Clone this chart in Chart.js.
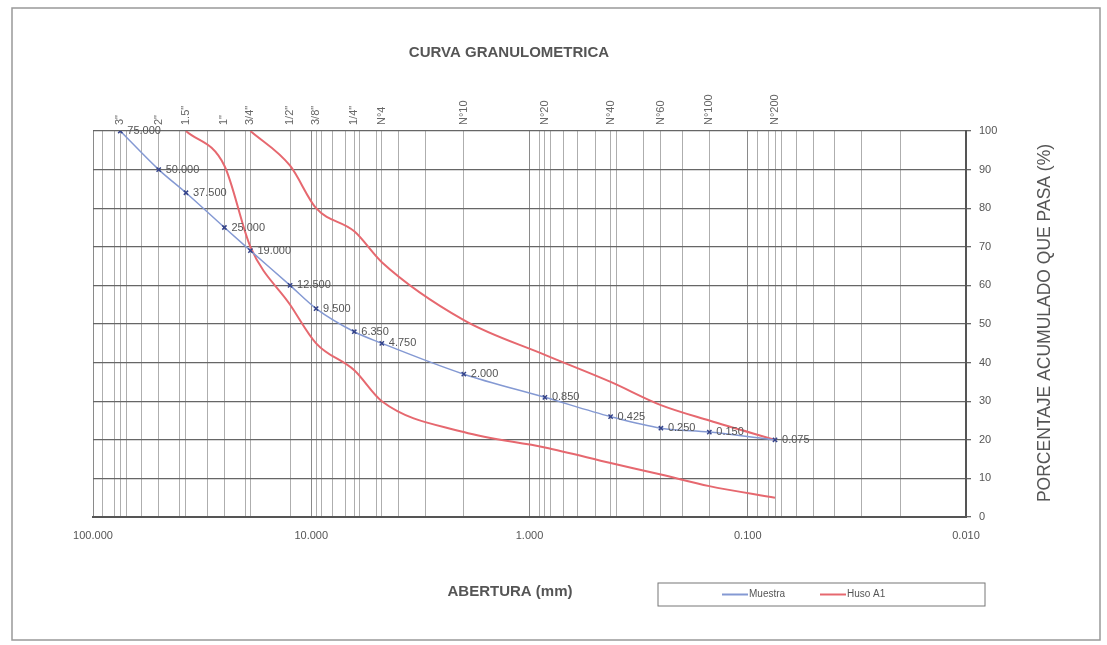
<!DOCTYPE HTML>
<html>
<head>
  <script src="https://cdn.jsdelivr.net/npm/chart.js"></script>
  <style>
    body { margin: 0; background: #fff; }
  </style>
  <script>
    // Sieve openings (mm) and their names
    const sieveSizes = [75, 50, 37.5, 25, 19, 12.5, 9.5, 6.35, 4.75, 2, 0.85, 0.425, 0.25, 0.15, 0.075];
    const sieveNames = ['3"', '2"', '1.5"', '1"', '3/4"', '1/2"', '3/8"', '1/4"', 'N°4', 'N°10', 'N°20', 'N°40', 'N°60', 'N°100', 'N°200'];

    // Sample: percent passing for each sieve
    const muestraPasa = [100, 90, 84, 75, 69, 60, 54, 48, 45, 37, 31, 26, 23, 22, 20];

    // Huso A1 limits (lower starts at 1.5", upper starts at 3/4")
    const husoInfSizes = [37.5, 25, 19, 12.5, 9.5, 6.35, 4.75, 2, 0.85, 0.425, 0.25, 0.15, 0.075];
    const husoInfPasa  = [100, 91, 70, 55, 45, 38, 30, 22, 18, 14, 11, 8, 5];
    const husoSupSizes = [19, 12.5, 9.5, 6.35, 4.75, 2, 0.85, 0.425, 0.25, 0.15, 0.075];
    const husoSupPasa  = [100, 91, 80, 74, 66, 51, 42, 35, 29, 25, 20];

    const yTicks = [0, 10, 20, 30, 40, 50, 60, 70, 80, 90, 100];

    const textColor = '#555';

    function toPoints(xs, ys) {
      return xs.map((x, i) => ({ x: x, y: ys[i] }));
    }

    // extra drawing: title, axis titles, sieve names, point labels, legend, frame
    const extras = {
      id: 'extras',
      afterDraw(chart) {
        const ctx = chart.ctx;
        const area = chart.chartArea;
        const xs = chart.scales.x;
        ctx.save();

        // outer frame
        ctx.strokeStyle = '#999';
        ctx.lineWidth = 1.5;
        ctx.strokeRect(12, 8, 1088, 632);

        ctx.fillStyle = textColor;
        ctx.textAlign = 'center';
        ctx.textBaseline = 'middle';
        ctx.font = 'bold 15px "Liberation Sans", Arial, sans-serif';
        ctx.fillText('CURVA GRANULOMETRICA', 509, 53);

        ctx.font = 'bold 15px "Liberation Sans", Arial, sans-serif';
        ctx.fillText('ABERTURA (mm)', 510, 592);

        // right axis title
        ctx.save();
        ctx.translate(1045, 323);
        ctx.rotate(-Math.PI / 2);
        ctx.font = '17.5px "Liberation Sans", Arial, sans-serif';
        ctx.fillText('PORCENTAJE ACUMULADO QUE PASA (%)', 0, 0);
        ctx.restore();

        // sieve names above the plot
        ctx.font = '11px "Liberation Sans", Arial, sans-serif';
        ctx.fillStyle = '#666';
        sieveSizes.forEach((s, i) => {
          const px = xs.getPixelForValue(s);
          ctx.save();
          ctx.translate(px, area.top - 6);
          ctx.rotate(-Math.PI / 2);
          ctx.textAlign = 'left';
          ctx.fillText(sieveNames[i], 0, 0);
          ctx.restore();
        });

        // labels on sample points
        ctx.fillStyle = textColor;
        ctx.font = '11px "Liberation Sans", Arial, sans-serif';
        ctx.textAlign = 'left';
        const meta = chart.getDatasetMeta(0);
        meta.data.forEach((pt, i) => {
          ctx.fillText(sieveSizes[i].toFixed(3), pt.x + 7, pt.y);
        });

        // legend box
        const lx = 658, ly = 583, lw = 327, lh = 23;
        ctx.fillStyle = '#fff';
        ctx.fillRect(lx, ly, lw, lh);
        ctx.strokeStyle = '#777';
        ctx.lineWidth = 1;
        ctx.strokeRect(lx, ly, lw, lh);
        const seen = [];
        chart.data.datasets.forEach(ds => {
          if (seen.find(d => d.label === ds.label)) return;
          seen.push(ds);
        });
        ctx.font = '10px "Liberation Sans", Arial, sans-serif';
        ctx.textBaseline = 'middle';
        let cx = 722;
        seen.forEach(ds => {
          ctx.strokeStyle = ds.borderColor;
          ctx.lineWidth = 2;
          ctx.beginPath();
          ctx.moveTo(cx, ly + lh / 2);
          ctx.lineTo(cx + 26, ly + lh / 2);
          ctx.stroke();
          ctx.fillStyle = textColor;
          ctx.fillText(ds.label, cx + 27, ly + lh / 2);
          cx += 98;
        });

        ctx.restore();
      }
    };

    function buildChart() {
      const ctx = document.getElementById('myChart').getContext('2d');

      // grid positions: 1..9 per decade plus the sieve sizes
      const gridVals = [];
      for (let e = -2; e <= 1; e++) {
        for (let s = 1; s <= 9; s++) gridVals.push(s * Math.pow(10, e));
      }
      gridVals.push(100);
      sieveSizes.forEach(s => { if (!gridVals.includes(s)) gridVals.push(s); });
      gridVals.sort((a, b) => a - b);

      const isDecade = v => Math.abs(Math.log10(v) - Math.round(Math.log10(v))) < 1e-9;

      new Chart(ctx, {
        type: 'line',
        data: {
          datasets: [
            {
              label: 'Muestra',
              data: toPoints(sieveSizes, muestraPasa),
              borderColor: '#8499d3',
              borderWidth: 1.5,
              pointStyle: 'crossRot',
              pointRadius: 3,
              pointBorderColor: '#34438a',
              pointBorderWidth: 1.5,
              cubicInterpolationMode: 'monotone'
            },
            {
              label: 'Huso A1',
              data: toPoints(husoInfSizes, husoInfPasa),
              borderColor: '#e6686f',
              borderWidth: 2,
              pointRadius: 0,
              cubicInterpolationMode: 'monotone'
            },
            {
              label: 'Huso A1',
              data: toPoints(husoSupSizes, husoSupPasa),
              borderColor: '#e6686f',
              borderWidth: 2,
              pointRadius: 0,
              cubicInterpolationMode: 'monotone'
            }
          ]
        },
        options: {
          responsive: false,
          animation: false,
          layout: { padding: { left: 93, top: 131, right: 0, bottom: 0 } },
          plugins: {
            legend: { display: false },
            tooltip: { enabled: false }
          },
          scales: {
            x: {
              type: 'logarithmic',
              min: 0.01,
              max: 100,
              reverse: true,
              afterBuildTicks: scale => {
                scale.ticks = gridVals.map(v => ({ value: v }));
              },
              afterFit: scale => { scale.height = 128; },
              border: { display: true, color: '#555', width: 2 },
              grid: {
                color: c => isDecade(c.tick.value) ? '#8a8a8a' : 'rgba(120,120,120,0.6)',
                lineWidth: 1,
                tickLength: 0
              },
              ticks: {
                autoSkip: false,
                maxRotation: 0,
                padding: 12,
                color: textColor,
                font: { size: 11, family: '"Liberation Sans", Arial, sans-serif' },
                callback: v => isDecade(v) ? Number(v).toFixed(3) : ''
              }
            },
            y: {
              position: 'right',
              min: 0,
              max: 100,
              afterBuildTicks: scale => {
                scale.ticks = yTicks.map(v => ({ value: v }));
              },
              afterFit: scale => { scale.width = 141; },
              border: { display: true, color: '#555', width: 2 },
              grid: { color: '#666', lineWidth: 1.3, tickLength: 5 },
              ticks: {
                padding: 8,
                color: textColor,
                font: { size: 11, family: '"Liberation Sans", Arial, sans-serif' }
              }
            }
          }
        },
        plugins: [extras]
      });
    }

    window.onload = function() {
      buildChart();
    }
  </script>
</head>
<body>
  <canvas id="myChart" width="1107" height="645"></canvas>
</body>
</html>
